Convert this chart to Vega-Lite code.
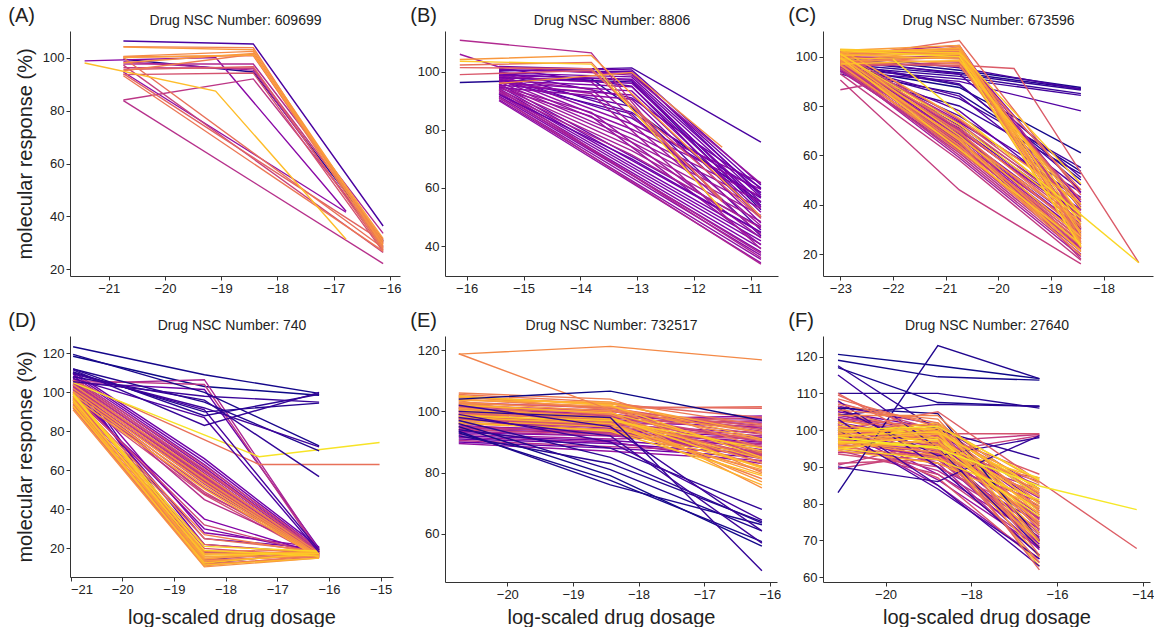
{
"$schema":"https://vega.github.io/schema/vega-lite/v6.json",
"background":"white",
"padding":{"left":8,"top":6,"right":0,"bottom":0},
"config":{
 "font":"Liberation Sans",
 "view":{"stroke":null},
 "axis":{"grid":false,"domainColor":"#333333","tickColor":"#333333","labelColor":"#222222","labelFontSize":13,"tickSize":4,"labelPadding":2,"titleFontSize":20,"titleFontWeight":"normal","titleColor":"#222222","domainWidth":1,"tickWidth":1,"titlePadding":6},
 "title":{"fontSize":20,"fontWeight":"normal","color":"#222222","offset":0,"anchor":"start","frame":"bounds","dx":-7,"dy":17},
 "line":{"strokeWidth":1.4}
},
"datasets":{
"A":[
{"i":3,"x":-20.74,"y":99.4},{"i":3,"x":-18.43,"y":94.6},{"i":3,"x":-16.12,"y":30.8},
{"i":12,"x":-20.74,"y":106.3},{"i":12,"x":-18.43,"y":105.2},{"i":12,"x":-16.12,"y":36.4},
{"i":28,"x":-21.43,"y":98.8},{"i":28,"x":-19.1,"y":100.1},{"i":28,"x":-16.78,"y":42.0},
{"i":30,"x":-20.74,"y":94.6},{"i":30,"x":-16.78,"y":41.6},
{"i":36,"x":-20.74,"y":98.5},{"i":36,"x":-18.43,"y":95.3},{"i":36,"x":-16.12,"y":28.6},
{"i":40,"x":-20.74,"y":97.6},{"i":40,"x":-18.43,"y":97.6},{"i":40,"x":-16.12,"y":33.6},
{"i":42,"x":-20.74,"y":83.8},{"i":42,"x":-16.12,"y":22.2},
{"i":44,"x":-20.74,"y":84.0},{"i":44,"x":-18.43,"y":92.0},{"i":44,"x":-16.12,"y":30.2},
{"i":46,"x":-20.74,"y":96.2},{"i":46,"x":-18.43,"y":96.0},{"i":46,"x":-16.12,"y":31.2},
{"i":48,"x":-20.74,"y":97.2},{"i":48,"x":-16.12,"y":26.4},
{"i":54,"x":-20.74,"y":93.6},{"i":54,"x":-18.43,"y":94.2},{"i":54,"x":-16.12,"y":26.7},
{"i":58,"x":-20.74,"y":95.5},{"i":58,"x":-18.43,"y":96.6},{"i":58,"x":-16.12,"y":27.4},
{"i":60,"x":-20.74,"y":94.0},{"i":60,"x":-16.12,"y":30.5},
{"i":62,"x":-20.74,"y":100.3},{"i":62,"x":-18.43,"y":100.8},{"i":62,"x":-16.12,"y":30.1},
{"i":64,"x":-20.74,"y":100.0},{"i":64,"x":-16.12,"y":28.1},
{"i":66,"x":-20.74,"y":93.2},{"i":66,"x":-16.12,"y":26.9},
{"i":68,"x":-20.74,"y":95.1},{"i":68,"x":-18.43,"y":101.3},{"i":68,"x":-16.12,"y":27.6},
{"i":70,"x":-20.74,"y":104.2},{"i":70,"x":-18.43,"y":103.8},{"i":70,"x":-16.12,"y":28.2},
{"i":72,"x":-20.74,"y":100.5},{"i":72,"x":-18.43,"y":102.4},{"i":72,"x":-16.12,"y":29.6},
{"i":74,"x":-20.74,"y":98.1},{"i":74,"x":-18.43,"y":101.6},{"i":74,"x":-16.12,"y":29.0},
{"i":76,"x":-20.74,"y":104.0},{"i":76,"x":-18.43,"y":103.0},{"i":76,"x":-16.12,"y":30.6},
{"i":78,"x":-20.74,"y":100.1},{"i":78,"x":-18.43,"y":101.0},{"i":78,"x":-16.12,"y":31.6},
{"i":86,"x":-21.43,"y":98.0},{"i":86,"x":-19.1,"y":87.4},{"i":86,"x":-16.78,"y":31.4}
],
"B":[
{"i":3,"x":-16.12,"y":96.3},{"i":3,"x":-13.81,"y":97.6},{"i":3,"x":-10.83,"y":55.0},
{"i":8,"x":-15.43,"y":98.0},{"i":8,"x":-13.1,"y":96.5},{"i":8,"x":-10.83,"y":52.5},
{"i":12,"x":-15.43,"y":100.2},{"i":12,"x":-13.1,"y":101.3},{"i":12,"x":-10.83,"y":75.8},
{"i":15,"x":-15.43,"y":96.8},{"i":15,"x":-13.1,"y":85.5},{"i":15,"x":-10.83,"y":43.5},
{"i":16,"x":-15.43,"y":97.5},{"i":16,"x":-13.1,"y":88.0},{"i":16,"x":-10.83,"y":45.5},
{"i":17,"x":-15.43,"y":101.2},{"i":17,"x":-13.1,"y":95.0},{"i":17,"x":-10.83,"y":50.0},
{"i":17.5,"x":-15.43,"y":98.6},{"i":17.5,"x":-13.1,"y":84.0},{"i":17.5,"x":-10.83,"y":56.5},
{"i":18,"x":-15.43,"y":100.5},{"i":18,"x":-13.1,"y":100.0},{"i":18,"x":-10.83,"y":57.5},
{"i":18.5,"x":-15.43,"y":99.8},{"i":18.5,"x":-13.1,"y":86.0},{"i":18.5,"x":-10.83,"y":58.5},
{"i":19,"x":-15.43,"y":99.2},{"i":19,"x":-13.1,"y":97.0},{"i":19,"x":-10.83,"y":54.0},
{"i":19.5,"x":-15.43,"y":100.0},{"i":19.5,"x":-13.1,"y":91.0},{"i":19.5,"x":-10.83,"y":60.0},
{"i":21.5,"x":-15.43,"y":95.8},{"i":21.5,"x":-10.83,"y":46.5},
{"i":22.5,"x":-15.43,"y":95.0},{"i":22.5,"x":-10.83,"y":44.6},
{"i":23.5,"x":-15.43,"y":94.2},{"i":23.5,"x":-10.83,"y":43.0},
{"i":24.5,"x":-15.43,"y":93.5},{"i":24.5,"x":-10.83,"y":41.8},
{"i":25.5,"x":-15.43,"y":92.8},{"i":25.5,"x":-10.83,"y":40.6},
{"i":26.5,"x":-15.43,"y":92.2},{"i":26.5,"x":-10.83,"y":39.2},
{"i":27.5,"x":-15.43,"y":91.6},{"i":27.5,"x":-10.83,"y":38.0},
{"i":28.5,"x":-15.43,"y":91.0},{"i":28.5,"x":-10.83,"y":36.8},
{"i":29.5,"x":-15.43,"y":90.4},{"i":29.5,"x":-10.83,"y":35.4},
{"i":30.5,"x":-15.43,"y":90.0},{"i":30.5,"x":-10.83,"y":34.2},
{"i":36.5,"x":-15.43,"y":92.5},{"i":36.5,"x":-10.83,"y":37.5},
{"i":37.5,"x":-15.43,"y":93.8},{"i":37.5,"x":-10.83,"y":36.0},
{"i":38.5,"x":-15.43,"y":91.2},{"i":38.5,"x":-10.83,"y":33.8},
{"i":31.5,"x":-15.43,"y":94.4},{"i":31.5,"x":-13.81,"y":84.6},{"i":31.5,"x":-10.83,"y":40.4},
{"i":32.5,"x":-15.43,"y":95.2},{"i":32.5,"x":-13.81,"y":86.0},{"i":32.5,"x":-10.83,"y":42.8},
{"i":33.5,"x":-15.43,"y":98.5},{"i":33.5,"x":-13.81,"y":96.5},{"i":33.5,"x":-10.83,"y":47.0},
{"i":34.5,"x":-15.43,"y":97.6},{"i":34.5,"x":-13.81,"y":94.0},{"i":34.5,"x":-10.83,"y":44.0},
{"i":35.5,"x":-15.43,"y":96.4},{"i":35.5,"x":-13.81,"y":92.5},{"i":35.5,"x":-10.83,"y":39.0},
{"i":29,"x":-15.43,"y":99.0},{"i":29,"x":-13.1,"y":82.0},{"i":29,"x":-10.83,"y":61.8},
{"i":30,"x":-15.43,"y":98.2},{"i":30,"x":-13.1,"y":80.2},{"i":30,"x":-10.83,"y":59.5},
{"i":31,"x":-15.43,"y":97.3},{"i":31,"x":-13.1,"y":78.6},{"i":31,"x":-10.83,"y":57.0},
{"i":32,"x":-15.43,"y":96.5},{"i":32,"x":-13.1,"y":77.0},{"i":32,"x":-10.83,"y":55.2},
{"i":34,"x":-15.43,"y":95.6},{"i":34,"x":-13.1,"y":75.8},{"i":34,"x":-10.83,"y":53.0},
{"i":35,"x":-15.43,"y":94.8},{"i":35,"x":-13.1,"y":74.2},{"i":35,"x":-10.83,"y":50.6},
{"i":36,"x":-15.43,"y":93.8},{"i":36,"x":-13.1,"y":72.8},{"i":36,"x":-10.83,"y":48.4},
{"i":37,"x":-15.43,"y":93.0},{"i":37,"x":-13.1,"y":71.4},{"i":37,"x":-10.83,"y":46.2},
{"i":20.5,"x":-15.43,"y":92.2},{"i":20.5,"x":-13.1,"y":70.0},{"i":20.5,"x":-10.83,"y":44.8},
{"i":20,"x":-15.43,"y":101.8},{"i":20,"x":-13.1,"y":100.6},{"i":20,"x":-10.83,"y":61.0},
{"i":21,"x":-15.43,"y":100.8},{"i":21,"x":-13.1,"y":99.4},{"i":21,"x":-10.83,"y":59.6},
{"i":22,"x":-15.43,"y":99.6},{"i":22,"x":-13.1,"y":98.2},{"i":22,"x":-10.83,"y":58.2},
{"i":23,"x":-15.43,"y":98.8},{"i":23,"x":-13.1,"y":97.4},{"i":23,"x":-10.83,"y":56.8},
{"i":24,"x":-15.43,"y":97.9},{"i":24,"x":-13.1,"y":96.0},{"i":24,"x":-10.83,"y":55.2},
{"i":25,"x":-15.43,"y":97.0},{"i":25,"x":-13.1,"y":94.8},{"i":25,"x":-10.83,"y":53.4},
{"i":26,"x":-15.43,"y":96.2},{"i":26,"x":-13.1,"y":93.4},{"i":26,"x":-10.83,"y":51.6},
{"i":27,"x":-15.43,"y":95.4},{"i":27,"x":-13.1,"y":92.0},{"i":27,"x":-10.83,"y":49.8},
{"i":28,"x":-15.43,"y":94.6},{"i":28,"x":-13.1,"y":90.5},{"i":28,"x":-10.83,"y":47.9},
{"i":33,"x":-16.12,"y":106.0},{"i":33,"x":-15.43,"y":101.6},{"i":33,"x":-13.1,"y":98.8},{"i":33,"x":-10.83,"y":61.5},
{"i":40,"x":-16.12,"y":110.8},{"i":40,"x":-13.81,"y":106.5},{"i":40,"x":-11.51,"y":51.8},
{"i":56,"x":-16.12,"y":99.0},{"i":56,"x":-13.81,"y":100.4},{"i":56,"x":-10.83,"y":49.5},
{"i":60,"x":-16.12,"y":101.4},{"i":60,"x":-13.81,"y":101.0},{"i":60,"x":-11.51,"y":56.0},
{"i":64,"x":-16.12,"y":102.3},{"i":64,"x":-13.81,"y":103.2},{"i":64,"x":-11.51,"y":55.2},
{"i":72,"x":-15.43,"y":96.0},{"i":72,"x":-13.1,"y":99.7},{"i":72,"x":-11.51,"y":74.0},
{"i":76,"x":-16.12,"y":104.2},{"i":76,"x":-13.81,"y":105.6},{"i":76,"x":-10.83,"y":50.2},
{"i":88,"x":-16.12,"y":103.6},{"i":88,"x":-13.81,"y":102.6},{"i":88,"x":-11.51,"y":52.4}
],
"C":[
{"i":1,"x":-23.0,"y":95.5},{"i":1,"x":-20.74,"y":87.5},{"i":1,"x":-18.43,"y":61.0},
{"i":3,"x":-23.0,"y":94.0},{"i":3,"x":-20.74,"y":85.0},{"i":3,"x":-18.43,"y":53.5},
{"i":5,"x":-23.0,"y":97.0},{"i":5,"x":-20.74,"y":88.5},{"i":5,"x":-18.43,"y":50.0},
{"i":7,"x":-23.0,"y":93.0},{"i":7,"x":-20.74,"y":80.0},{"i":7,"x":-18.43,"y":52.5},
{"i":9,"x":-23.0,"y":96.0},{"i":9,"x":-20.74,"y":83.0},{"i":9,"x":-18.43,"y":55.0},
{"i":2,"x":-23.0,"y":99.5},{"i":2,"x":-20.74,"y":94.5},{"i":2,"x":-18.43,"y":87.5},
{"i":4,"x":-23.0,"y":98.0},{"i":4,"x":-20.74,"y":93.5},{"i":4,"x":-18.43,"y":87.0},
{"i":6,"x":-23.0,"y":97.0},{"i":6,"x":-20.74,"y":92.8},{"i":6,"x":-18.43,"y":86.5},
{"i":8,"x":-23.0,"y":96.0},{"i":8,"x":-20.74,"y":92.0},{"i":8,"x":-18.43,"y":85.0},
{"i":10,"x":-23.0,"y":95.0},{"i":10,"x":-20.74,"y":91.0},{"i":10,"x":-18.43,"y":84.3},
{"i":12,"x":-23.0,"y":100.5},{"i":12,"x":-20.74,"y":95.5},{"i":12,"x":-18.43,"y":86.8},
{"i":14,"x":-23.0,"y":94.0},{"i":14,"x":-20.74,"y":90.0},{"i":14,"x":-18.43,"y":78.0},
{"i":11,"x":-23.0,"y":97.5},{"i":11,"x":-20.74,"y":89.0},{"i":11,"x":-18.43,"y":48.0},
{"i":13,"x":-23.0,"y":99.0},{"i":13,"x":-20.74,"y":93.0},{"i":13,"x":-18.43,"y":51.0},
{"i":15,"x":-23.0,"y":96.5},{"i":15,"x":-20.74,"y":84.0},{"i":15,"x":-18.43,"y":46.0},
{"i":16,"x":-23.0,"y":98.0},{"i":16,"x":-20.74,"y":76.0},{"i":16,"x":-18.43,"y":45.0},
{"i":17,"x":-23.0,"y":98.0},{"i":17,"x":-20.74,"y":78.0},{"i":17,"x":-18.43,"y":40.0},
{"i":18,"x":-23.0,"y":96.5},{"i":18,"x":-20.74,"y":73.5},{"i":18,"x":-18.43,"y":43.0},
{"i":19,"x":-23.0,"y":95.5},{"i":19,"x":-20.74,"y":71.0},{"i":19,"x":-18.43,"y":36.0},
{"i":20,"x":-23.0,"y":99.0},{"i":20,"x":-20.74,"y":72.0},{"i":20,"x":-18.43,"y":38.0},
{"i":21,"x":-23.0,"y":100.0},{"i":21,"x":-20.74,"y":68.0},{"i":21,"x":-18.43,"y":30.5},
{"i":22,"x":-23.0,"y":98.0},{"i":22,"x":-20.74,"y":70.0},{"i":22,"x":-18.43,"y":35.0},
{"i":23,"x":-23.0,"y":97.0},{"i":23,"x":-20.74,"y":66.0},{"i":23,"x":-18.43,"y":28.5},
{"i":24,"x":-23.0,"y":100.5},{"i":24,"x":-20.74,"y":102.5},{"i":24,"x":-18.43,"y":30.0},
{"i":25,"x":-23.0,"y":102.0},{"i":25,"x":-20.74,"y":101.5},{"i":25,"x":-18.43,"y":45.0},
{"i":26,"x":-23.0,"y":97.0},{"i":26,"x":-20.74,"y":68.5},{"i":26,"x":-18.43,"y":32.0},
{"i":27,"x":-23.0,"y":99.5},{"i":27,"x":-20.74,"y":99.5},{"i":27,"x":-18.43,"y":41.0},
{"i":28,"x":-23.0,"y":96.0},{"i":28,"x":-20.74,"y":67.0},{"i":28,"x":-18.43,"y":30.0},
{"i":29,"x":-23.0,"y":94.5},{"i":29,"x":-20.74,"y":62.0},{"i":29,"x":-18.43,"y":24.0},
{"i":30,"x":-23.0,"y":99.0},{"i":30,"x":-20.74,"y":100.5},{"i":30,"x":-18.43,"y":38.0},
{"i":31,"x":-23.0,"y":98.5},{"i":31,"x":-20.74,"y":64.5},{"i":31,"x":-18.43,"y":22.5},
{"i":32,"x":-23.0,"y":100.0},{"i":32,"x":-20.74,"y":74.0},{"i":32,"x":-18.43,"y":42.0},
{"i":33,"x":-23.0,"y":101.0},{"i":33,"x":-20.74,"y":70.0},{"i":33,"x":-18.43,"y":35.5},
{"i":34,"x":-23.0,"y":95.0},{"i":34,"x":-20.74,"y":65.0},{"i":34,"x":-18.43,"y":28.0},
{"i":35,"x":-23.0,"y":96.0},{"i":35,"x":-20.74,"y":59.0},{"i":35,"x":-18.43,"y":19.0},
{"i":36,"x":-23.0,"y":101.0},{"i":36,"x":-20.74,"y":104.5},{"i":36,"x":-18.43,"y":33.0},
{"i":37,"x":-23.0,"y":99.0},{"i":37,"x":-20.74,"y":67.5},{"i":37,"x":-18.43,"y":27.0},
{"i":38,"x":-23.0,"y":94.0},{"i":38,"x":-20.74,"y":63.5},{"i":38,"x":-18.43,"y":26.5},
{"i":39,"x":-23.0,"y":97.5},{"i":39,"x":-20.74,"y":65.5},{"i":39,"x":-18.43,"y":31.0},
{"i":40,"x":-23.0,"y":98.5},{"i":40,"x":-20.74,"y":66.0},{"i":40,"x":-18.43,"y":24.5},
{"i":41,"x":-23.0,"y":100.5},{"i":41,"x":-20.74,"y":103.0},{"i":41,"x":-18.43,"y":39.0},
{"i":42,"x":-23.0,"y":97.5},{"i":42,"x":-20.74,"y":62.0},{"i":42,"x":-18.43,"y":22.0},
{"i":43,"x":-23.0,"y":95.0},{"i":43,"x":-20.74,"y":61.0},{"i":43,"x":-18.43,"y":21.0},
{"i":44,"x":-23.0,"y":96.5},{"i":44,"x":-20.74,"y":60.0},{"i":44,"x":-18.43,"y":20.0},
{"i":45,"x":-23.0,"y":86.6},{"i":45,"x":-22.0,"y":90.5},{"i":45,"x":-20.74,"y":70.0},{"i":45,"x":-18.43,"y":18.0},
{"i":46,"x":-23.0,"y":93.0},{"i":46,"x":-20.74,"y":58.0},{"i":46,"x":-18.43,"y":17.5},
{"i":47,"x":-23.0,"y":90.5},{"i":47,"x":-20.74,"y":46.0},{"i":47,"x":-18.43,"y":16.0},
{"i":48,"x":-23.0,"y":101.0},{"i":48,"x":-20.74,"y":70.5},{"i":48,"x":-18.43,"y":33.5},
{"i":49,"x":-23.0,"y":98.0},{"i":49,"x":-20.74,"y":63.5},{"i":49,"x":-18.43,"y":25.0},
{"i":50,"x":-23.0,"y":96.0},{"i":50,"x":-20.74,"y":97.5},{"i":50,"x":-18.43,"y":35.0},
{"i":51,"x":-23.0,"y":100.0},{"i":51,"x":-20.74,"y":99.5},{"i":51,"x":-18.43,"y":34.0},
{"i":52,"x":-23.0,"y":99.5},{"i":52,"x":-20.74,"y":69.0},{"i":52,"x":-18.43,"y":29.5},
{"i":53,"x":-23.0,"y":96.5},{"i":53,"x":-20.74,"y":62.5},{"i":53,"x":-18.43,"y":23.0},
{"i":54,"x":-23.0,"y":102.0},{"i":54,"x":-20.74,"y":73.0},{"i":54,"x":-18.43,"y":36.5},
{"i":55,"x":-23.0,"y":103.0},{"i":55,"x":-20.74,"y":74.5},{"i":55,"x":-18.43,"y":37.5},
{"i":56,"x":-23.0,"y":98.0},{"i":56,"x":-20.74,"y":96.0},{"i":56,"x":-18.43,"y":42.0},
{"i":57,"x":-23.0,"y":97.0},{"i":57,"x":-20.74,"y":96.5},{"i":57,"x":-19.7,"y":95.2},{"i":57,"x":-17.33,"y":16.5},
{"i":58,"x":-23.0,"y":95.5},{"i":58,"x":-20.74,"y":64.0},{"i":58,"x":-18.43,"y":27.5},
{"i":59,"x":-23.0,"y":98.0},{"i":59,"x":-20.74,"y":100.5},{"i":59,"x":-18.43,"y":27.5},
{"i":61,"x":-23.0,"y":99.0},{"i":61,"x":-20.74,"y":65.0},{"i":61,"x":-18.43,"y":26.0},
{"i":62,"x":-23.0,"y":99.5},{"i":62,"x":-20.74,"y":106.5},{"i":62,"x":-18.43,"y":44.0},
{"i":63,"x":-23.0,"y":101.5},{"i":63,"x":-20.74,"y":102.0},{"i":63,"x":-18.43,"y":22.5},
{"i":64,"x":-23.0,"y":97.0},{"i":64,"x":-20.74,"y":61.5},{"i":64,"x":-18.43,"y":25.5},
{"i":65,"x":-23.0,"y":100.0},{"i":65,"x":-20.74,"y":69.5},{"i":65,"x":-18.43,"y":29.0},
{"i":66,"x":-23.0,"y":97.5},{"i":66,"x":-20.74,"y":104.0},{"i":66,"x":-18.43,"y":26.0},
{"i":67,"x":-23.0,"y":97.5},{"i":67,"x":-20.74,"y":100.0},{"i":67,"x":-18.43,"y":46.0},
{"i":68,"x":-23.0,"y":100.5},{"i":68,"x":-20.74,"y":71.5},{"i":68,"x":-18.43,"y":31.5},
{"i":69,"x":-23.0,"y":102.0},{"i":69,"x":-20.74,"y":103.0},{"i":69,"x":-18.43,"y":35.0},
{"i":70,"x":-23.0,"y":100.0},{"i":70,"x":-20.74,"y":97.0},{"i":70,"x":-18.43,"y":30.5},
{"i":71,"x":-23.0,"y":99.0},{"i":71,"x":-20.74,"y":64.0},{"i":71,"x":-18.43,"y":19.5},
{"i":72,"x":-23.0,"y":98.5},{"i":72,"x":-20.74,"y":66.5},{"i":72,"x":-18.43,"y":23.5},
{"i":73,"x":-23.0,"y":101.0},{"i":73,"x":-20.74,"y":101.5},{"i":73,"x":-18.43,"y":25.0},
{"i":74,"x":-23.0,"y":98.5},{"i":74,"x":-20.74,"y":98.0},{"i":74,"x":-18.43,"y":40.0},
{"i":75,"x":-23.0,"y":98.0},{"i":75,"x":-20.74,"y":67.0},{"i":75,"x":-18.43,"y":33.0},
{"i":76,"x":-23.0,"y":96.5},{"i":76,"x":-20.74,"y":63.0},{"i":76,"x":-18.43,"y":21.5},
{"i":77,"x":-23.0,"y":102.5},{"i":77,"x":-20.74,"y":104.5},{"i":77,"x":-18.43,"y":29.0},
{"i":78,"x":-23.0,"y":101.0},{"i":78,"x":-20.74,"y":99.0},{"i":78,"x":-18.43,"y":23.0},
{"i":79,"x":-23.0,"y":103.0},{"i":79,"x":-20.74,"y":75.0},{"i":79,"x":-18.43,"y":40.5},
{"i":80,"x":-23.0,"y":101.5},{"i":80,"x":-20.74,"y":103.5},{"i":80,"x":-18.43,"y":24.0},
{"i":81,"x":-23.0,"y":100.0},{"i":81,"x":-20.74,"y":66.0},{"i":81,"x":-18.43,"y":21.0},
{"i":82,"x":-23.0,"y":102.5},{"i":82,"x":-20.74,"y":102.5},{"i":82,"x":-18.43,"y":28.0},
{"i":83,"x":-23.0,"y":101.5},{"i":83,"x":-20.74,"y":68.0},{"i":83,"x":-18.43,"y":27.0},
{"i":84,"x":-23.0,"y":100.5},{"i":84,"x":-20.74,"y":101.0},{"i":84,"x":-18.43,"y":32.0},
{"i":85,"x":-23.0,"y":97.0},{"i":85,"x":-20.74,"y":98.5},{"i":85,"x":-18.43,"y":38.5},
{"i":86,"x":-23.0,"y":99.0},{"i":86,"x":-20.74,"y":100.0},{"i":86,"x":-18.43,"y":36.0},
{"i":87,"x":-23.0,"y":99.5},{"i":87,"x":-20.74,"y":62.5},{"i":87,"x":-18.43,"y":24.0},
{"i":88,"x":-23.0,"y":103.0},{"i":88,"x":-20.74,"y":101.5},{"i":88,"x":-18.43,"y":48.5},
{"i":89,"x":-23.0,"y":101.0},{"i":89,"x":-20.74,"y":72.5},{"i":89,"x":-18.43,"y":34.5},
{"i":90,"x":-23.0,"y":102.5},{"i":90,"x":-20.74,"y":100.0},{"i":90,"x":-18.43,"y":23.0},
{"i":92,"x":-22.0,"y":99.0},{"i":92,"x":-17.33,"y":16.5}
],
"D":[
{"i":0,"x":-20.95,"y":118.5},{"i":0,"x":-18.41,"y":103.0},{"i":0,"x":-16.19,"y":98.5},
{"i":14,"x":-20.95,"y":110.0},{"i":14,"x":-18.41,"y":14.0},{"i":14,"x":-16.19,"y":19.0},
{"i":16,"x":-20.95,"y":108.0},{"i":16,"x":-18.41,"y":12.0},{"i":16,"x":-16.19,"y":18.5},
{"i":18,"x":-20.95,"y":104.0},{"i":18,"x":-18.41,"y":22.0},{"i":18,"x":-16.19,"y":17.5},
{"i":22,"x":-20.95,"y":102.0},{"i":22,"x":-18.41,"y":25.0},{"i":22,"x":-16.19,"y":20.0},
{"i":24,"x":-20.95,"y":100.0},{"i":24,"x":-18.41,"y":30.0},{"i":24,"x":-16.19,"y":18.0},
{"i":26,"x":-20.95,"y":98.0},{"i":26,"x":-18.41,"y":35.0},{"i":26,"x":-16.19,"y":17.0},
{"i":28,"x":-20.95,"y":106.5},{"i":28,"x":-18.41,"y":28.0},{"i":28,"x":-16.19,"y":20.5},
{"i":30,"x":-20.95,"y":96.0},{"i":30,"x":-18.41,"y":18.0},{"i":30,"x":-16.19,"y":16.5},
{"i":21,"x":-20.95,"y":110.5},{"i":21,"x":-18.41,"y":66.0},{"i":21,"x":-16.19,"y":20.5},
{"i":23,"x":-20.95,"y":109.5},{"i":23,"x":-18.41,"y":64.5},{"i":23,"x":-16.19,"y":19.5},
{"i":25,"x":-20.95,"y":108.5},{"i":25,"x":-18.41,"y":63.0},{"i":25,"x":-16.19,"y":18.5},
{"i":27,"x":-20.95,"y":107.5},{"i":27,"x":-18.41,"y":61.5},{"i":27,"x":-16.19,"y":18.0},
{"i":29,"x":-20.95,"y":106.5},{"i":29,"x":-18.41,"y":60.0},{"i":29,"x":-16.19,"y":17.5},
{"i":31,"x":-20.95,"y":105.5},{"i":31,"x":-18.41,"y":58.5},{"i":31,"x":-16.19,"y":17.0},
{"i":33,"x":-20.95,"y":104.5},{"i":33,"x":-18.41,"y":57.0},{"i":33,"x":-16.19,"y":16.5},
{"i":35,"x":-20.95,"y":103.5},{"i":35,"x":-18.41,"y":56.0},{"i":35,"x":-16.19,"y":16.0},
{"i":37,"x":-20.95,"y":102.5},{"i":37,"x":-18.41,"y":54.5},{"i":37,"x":-16.19,"y":15.5},
{"i":39,"x":-20.95,"y":101.5},{"i":39,"x":-18.41,"y":53.0},{"i":39,"x":-16.19,"y":15.0},
{"i":41,"x":-20.95,"y":100.5},{"i":41,"x":-18.41,"y":51.0},{"i":41,"x":-16.19,"y":17.0},
{"i":43,"x":-20.95,"y":105.0},{"i":43,"x":-18.41,"y":59.5},{"i":43,"x":-16.19,"y":19.0},
{"i":45,"x":-20.95,"y":103.0},{"i":45,"x":-18.41,"y":56.5},{"i":45,"x":-16.19,"y":18.5},
{"i":47,"x":-20.95,"y":101.0},{"i":47,"x":-18.41,"y":54.0},{"i":47,"x":-16.19,"y":17.5},
{"i":49,"x":-20.95,"y":107.0},{"i":49,"x":-18.41,"y":62.5},{"i":49,"x":-16.19,"y":19.5},
{"i":51,"x":-20.95,"y":99.5},{"i":51,"x":-18.41,"y":49.0},{"i":51,"x":-16.19,"y":16.0},
{"i":53,"x":-20.95,"y":98.0},{"i":53,"x":-18.41,"y":47.5},{"i":53,"x":-16.19,"y":15.5},
{"i":55,"x":-20.95,"y":106.0},{"i":55,"x":-18.41,"y":60.5},{"i":55,"x":-16.19,"y":18.0},
{"i":57,"x":-20.95,"y":104.0},{"i":57,"x":-18.41,"y":57.5},{"i":57,"x":-16.19,"y":17.0},
{"i":59,"x":-20.95,"y":102.5},{"i":59,"x":-18.41,"y":55.0},{"i":59,"x":-16.19,"y":16.5},
{"i":20,"x":-20.95,"y":105.0},{"i":20,"x":-18.41,"y":101.5},{"i":20,"x":-16.19,"y":20.0},
{"i":38,"x":-20.95,"y":104.5},{"i":38,"x":-18.41,"y":106.5},{"i":38,"x":-16.19,"y":19.0},
{"i":44,"x":-20.95,"y":106.0},{"i":44,"x":-18.41,"y":104.0},{"i":44,"x":-16.19,"y":18.0},
{"i":42,"x":-20.95,"y":103.0},{"i":42,"x":-18.41,"y":45.0},{"i":42,"x":-16.19,"y":18.0},
{"i":46,"x":-20.95,"y":101.5},{"i":46,"x":-18.41,"y":48.0},{"i":46,"x":-16.19,"y":19.5},
{"i":50,"x":-20.95,"y":99.0},{"i":50,"x":-18.41,"y":32.0},{"i":50,"x":-16.19,"y":17.0},
{"i":54,"x":-20.95,"y":97.5},{"i":54,"x":-18.41,"y":20.0},{"i":54,"x":-16.19,"y":16.0},
{"i":58,"x":-20.95,"y":95.0},{"i":58,"x":-18.41,"y":16.0},{"i":58,"x":-16.19,"y":15.5},
{"i":60,"x":-20.95,"y":96.5},{"i":60,"x":-18.41,"y":22.0},{"i":60,"x":-16.19,"y":17.0},
{"i":61,"x":-20.95,"y":94.0},{"i":61,"x":-18.41,"y":14.0},{"i":61,"x":-16.19,"y":16.0},
{"i":62,"x":-20.95,"y":93.5},{"i":62,"x":-18.41,"y":13.0},{"i":62,"x":-16.19,"y":17.0},
{"i":63,"x":-20.95,"y":97.0},{"i":63,"x":-18.41,"y":25.0},{"i":63,"x":-16.19,"y":18.5},
{"i":65,"x":-20.95,"y":92.5},{"i":65,"x":-18.41,"y":12.0},{"i":65,"x":-16.19,"y":15.5},
{"i":66,"x":-20.95,"y":92.0},{"i":66,"x":-18.41,"y":11.0},{"i":66,"x":-16.19,"y":16.5},
{"i":67,"x":-20.95,"y":95.5},{"i":67,"x":-18.41,"y":18.5},{"i":67,"x":-16.19,"y":19.0},
{"i":69,"x":-20.95,"y":98.0},{"i":69,"x":-18.41,"y":27.0},{"i":69,"x":-16.19,"y":17.5},
{"i":70,"x":-20.95,"y":94.5},{"i":70,"x":-18.41,"y":17.0},{"i":70,"x":-16.19,"y":18.0},
{"i":71,"x":-20.95,"y":104.0},{"i":71,"x":-18.41,"y":58.0},{"i":71,"x":-16.19,"y":17.5},
{"i":72,"x":-20.95,"y":93.0},{"i":72,"x":-18.41,"y":15.0},{"i":72,"x":-16.19,"y":17.0},
{"i":73,"x":-20.95,"y":102.0},{"i":73,"x":-18.41,"y":55.5},{"i":73,"x":-16.19,"y":16.5},
{"i":74,"x":-20.95,"y":91.0},{"i":74,"x":-18.41,"y":10.5},{"i":74,"x":-16.19,"y":15.0},
{"i":75,"x":-20.95,"y":100.5},{"i":75,"x":-18.41,"y":53.5},{"i":75,"x":-16.19,"y":16.0},
{"i":76,"x":-20.95,"y":97.0},{"i":76,"x":-18.41,"y":13.5},{"i":76,"x":-16.19,"y":16.5},
{"i":77,"x":-20.95,"y":99.0},{"i":77,"x":-18.41,"y":52.0},{"i":77,"x":-16.19,"y":15.5},
{"i":78,"x":-20.95,"y":96.5},{"i":78,"x":-18.41,"y":14.5},{"i":78,"x":-16.19,"y":19.0},
{"i":79,"x":-20.95,"y":97.5},{"i":79,"x":-18.41,"y":50.5},{"i":79,"x":-16.19,"y":15.0},
{"i":80,"x":-20.95,"y":100.0},{"i":80,"x":-18.41,"y":17.5},{"i":80,"x":-16.19,"y":18.0},
{"i":82,"x":-20.95,"y":99.5},{"i":82,"x":-18.41,"y":15.5},{"i":82,"x":-16.19,"y":18.5},
{"i":84,"x":-20.95,"y":95.0},{"i":84,"x":-18.41,"y":11.5},{"i":84,"x":-16.19,"y":15.0},
{"i":86,"x":-20.95,"y":93.0},{"i":86,"x":-18.41,"y":12.5},{"i":86,"x":-16.19,"y":17.5},
{"i":88,"x":-20.95,"y":96.0},{"i":88,"x":-18.41,"y":16.5},{"i":88,"x":-16.19,"y":17.5},
{"i":90,"x":-20.95,"y":98.5},{"i":90,"x":-18.41,"y":19.0},{"i":90,"x":-16.19,"y":16.0},
{"i":92,"x":-20.95,"y":99.0},{"i":92,"x":-18.41,"y":21.0},{"i":92,"x":-16.19,"y":18.5},
{"i":64,"x":-20.95,"y":106.0},{"i":64,"x":-17.35,"y":63.0},{"i":64,"x":-15.02,"y":63.0},
{"i":95,"x":-20.95,"y":105.0},{"i":95,"x":-17.35,"y":67.0},{"i":95,"x":-15.02,"y":74.3},
{"i":11,"x":-20.95,"y":110.0},{"i":11,"x":-18.41,"y":91.0},{"i":11,"x":-16.19,"y":19.0},
{"i":13,"x":-20.95,"y":107.0},{"i":13,"x":-18.41,"y":87.0},{"i":13,"x":-16.19,"y":18.0},
{"i":1,"x":-20.95,"y":123.4},{"i":1,"x":-18.41,"y":109.0},{"i":1,"x":-16.19,"y":99.5},
{"i":2,"x":-20.95,"y":119.5},{"i":2,"x":-18.41,"y":100.0},{"i":2,"x":-16.19,"y":72.5},
{"i":3,"x":-20.95,"y":112.0},{"i":3,"x":-18.41,"y":95.0},{"i":3,"x":-16.19,"y":70.0},
{"i":4,"x":-20.95,"y":110.5},{"i":4,"x":-18.41,"y":90.0},{"i":4,"x":-16.19,"y":94.5},
{"i":5,"x":-20.95,"y":112.0},{"i":5,"x":-18.41,"y":88.0},{"i":5,"x":-16.19,"y":99.0},
{"i":6,"x":-20.95,"y":108.0},{"i":6,"x":-18.41,"y":96.0},{"i":6,"x":-16.19,"y":56.8},
{"i":7,"x":-20.95,"y":111.5},{"i":7,"x":-18.41,"y":83.0},{"i":7,"x":-16.19,"y":100.0},
{"i":8,"x":-20.95,"y":105.5},{"i":8,"x":-18.41,"y":98.0},{"i":8,"x":-16.19,"y":95.0},
{"i":9,"x":-20.95,"y":109.5},{"i":9,"x":-18.41,"y":92.0},{"i":9,"x":-16.19,"y":72.0}
],
"E":[
{"i":20,"x":-20.74,"y":90.0},{"i":20,"x":-18.43,"y":88.0},{"i":20,"x":-16.12,"y":85.0},
{"i":21,"x":-20.74,"y":91.0},{"i":21,"x":-18.43,"y":89.5},{"i":21,"x":-16.12,"y":86.0},
{"i":22,"x":-20.74,"y":92.0},{"i":22,"x":-18.43,"y":90.5},{"i":22,"x":-16.12,"y":87.0},
{"i":23,"x":-20.74,"y":93.0},{"i":23,"x":-18.43,"y":92.0},{"i":23,"x":-16.12,"y":88.5},
{"i":24,"x":-20.74,"y":94.0},{"i":24,"x":-18.43,"y":93.0},{"i":24,"x":-16.12,"y":90.0},
{"i":25,"x":-20.74,"y":95.0},{"i":25,"x":-18.43,"y":94.0},{"i":25,"x":-16.12,"y":91.5},
{"i":26,"x":-20.74,"y":96.0},{"i":26,"x":-18.43,"y":95.5},{"i":26,"x":-16.12,"y":93.0},
{"i":27,"x":-20.74,"y":97.0},{"i":27,"x":-18.43,"y":96.5},{"i":27,"x":-16.12,"y":95.0},
{"i":28,"x":-20.74,"y":98.0},{"i":28,"x":-18.43,"y":97.0},{"i":28,"x":-16.12,"y":96.5},
{"i":29,"x":-20.74,"y":99.0},{"i":29,"x":-18.43,"y":98.0},{"i":29,"x":-16.12,"y":97.5},
{"i":30,"x":-20.74,"y":100.0},{"i":30,"x":-18.43,"y":97.5},{"i":30,"x":-16.12,"y":98.5},
{"i":31,"x":-20.74,"y":89.5},{"i":31,"x":-18.43,"y":87.0},{"i":31,"x":-16.12,"y":84.0},
{"i":32,"x":-20.74,"y":91.5},{"i":32,"x":-18.43,"y":90.0},{"i":32,"x":-16.12,"y":83.0},
{"i":33,"x":-20.74,"y":95.5},{"i":33,"x":-18.43,"y":92.5},{"i":33,"x":-16.12,"y":86.5},
{"i":34,"x":-20.74,"y":97.5},{"i":34,"x":-18.43,"y":94.5},{"i":34,"x":-16.12,"y":87.5},
{"i":35,"x":-20.74,"y":101.0},{"i":35,"x":-18.43,"y":99.0},{"i":35,"x":-16.12,"y":94.5},
{"i":36,"x":-20.74,"y":92.5},{"i":36,"x":-18.43,"y":91.0},{"i":36,"x":-16.12,"y":92.0},
{"i":37,"x":-20.74,"y":93.5},{"i":37,"x":-18.43,"y":92.0},{"i":37,"x":-16.12,"y":89.5},
{"i":38,"x":-20.74,"y":94.5},{"i":38,"x":-18.43,"y":93.5},{"i":38,"x":-16.12,"y":86.0},
{"i":39,"x":-20.74,"y":96.5},{"i":39,"x":-18.43,"y":94.0},{"i":39,"x":-16.12,"y":84.5},
{"i":40,"x":-20.74,"y":98.5},{"i":40,"x":-18.43,"y":96.0},{"i":40,"x":-16.12,"y":92.0},
{"i":41,"x":-20.74,"y":99.5},{"i":41,"x":-18.43,"y":99.0},{"i":41,"x":-16.12,"y":95.5},
{"i":42,"x":-20.74,"y":90.5},{"i":42,"x":-18.43,"y":88.5},{"i":42,"x":-16.12,"y":86.5},
{"i":43,"x":-20.74,"y":100.5},{"i":43,"x":-18.43,"y":98.5},{"i":43,"x":-16.12,"y":90.0},
{"i":44,"x":-20.74,"y":97.0},{"i":44,"x":-18.43,"y":95.5},{"i":44,"x":-16.12,"y":97.0},
{"i":45,"x":-20.74,"y":96.0},{"i":45,"x":-18.43,"y":95.0},{"i":45,"x":-16.12,"y":89.0},
{"i":46,"x":-20.74,"y":95.0},{"i":46,"x":-18.43,"y":93.0},{"i":46,"x":-16.12,"y":85.0},
{"i":47,"x":-20.74,"y":102.0},{"i":47,"x":-18.43,"y":100.0},{"i":47,"x":-16.12,"y":93.5},
{"i":48,"x":-20.74,"y":98.0},{"i":48,"x":-18.43,"y":97.0},{"i":48,"x":-16.12,"y":85.5},
{"i":49,"x":-20.74,"y":94.0},{"i":49,"x":-18.43,"y":92.5},{"i":49,"x":-16.12,"y":91.0},
{"i":50,"x":-20.74,"y":99.0},{"i":50,"x":-18.43,"y":98.5},{"i":50,"x":-16.12,"y":90.5},
{"i":51,"x":-20.74,"y":101.5},{"i":51,"x":-18.43,"y":99.5},{"i":51,"x":-16.12,"y":86.0},
{"i":52,"x":-20.74,"y":96.0},{"i":52,"x":-18.43,"y":96.5},{"i":52,"x":-16.12,"y":98.0},
{"i":53,"x":-20.74,"y":100.0},{"i":53,"x":-18.43,"y":99.0},{"i":53,"x":-16.12,"y":92.5},
{"i":54,"x":-20.74,"y":99.5},{"i":54,"x":-18.43,"y":97.0},{"i":54,"x":-16.12,"y":83.5},
{"i":55,"x":-20.74,"y":103.0},{"i":55,"x":-18.43,"y":101.0},{"i":55,"x":-16.12,"y":94.0},
{"i":56,"x":-20.74,"y":101.5},{"i":56,"x":-18.43,"y":100.5},{"i":56,"x":-16.12,"y":95.0},
{"i":57,"x":-20.74,"y":98.0},{"i":57,"x":-18.43,"y":95.5},{"i":57,"x":-16.12,"y":88.5},
{"i":58,"x":-20.74,"y":100.5},{"i":58,"x":-18.43,"y":100.0},{"i":58,"x":-16.12,"y":96.0},
{"i":59,"x":-20.74,"y":97.5},{"i":59,"x":-18.43,"y":96.0},{"i":59,"x":-16.12,"y":91.0},
{"i":60,"x":-20.74,"y":102.5},{"i":60,"x":-18.43,"y":101.5},{"i":60,"x":-16.12,"y":101.0},
{"i":61,"x":-20.74,"y":104.5},{"i":61,"x":-18.43,"y":102.5},{"i":61,"x":-16.12,"y":98.0},
{"i":62,"x":-20.74,"y":101.0},{"i":62,"x":-18.43,"y":98.0},{"i":62,"x":-16.12,"y":85.0},
{"i":63,"x":-20.74,"y":104.0},{"i":63,"x":-18.43,"y":101.0},{"i":63,"x":-16.12,"y":101.5},
{"i":64,"x":-20.74,"y":99.0},{"i":64,"x":-18.43,"y":97.5},{"i":64,"x":-16.12,"y":82.0},
{"i":65,"x":-20.74,"y":103.5},{"i":65,"x":-18.43,"y":95.0},{"i":65,"x":-16.12,"y":80.5},
{"i":66,"x":-20.74,"y":105.5},{"i":66,"x":-18.43,"y":103.0},{"i":66,"x":-16.12,"y":95.5},
{"i":67,"x":-20.74,"y":105.0},{"i":67,"x":-18.43,"y":100.5},{"i":67,"x":-16.12,"y":86.5},
{"i":68,"x":-20.74,"y":106.0},{"i":68,"x":-18.43,"y":104.0},{"i":68,"x":-16.12,"y":88.0},
{"i":69,"x":-20.74,"y":100.0},{"i":69,"x":-18.43,"y":96.5},{"i":69,"x":-16.12,"y":78.0},
{"i":71,"x":-20.74,"y":105.0},{"i":71,"x":-18.43,"y":102.0},{"i":71,"x":-16.12,"y":80.0},
{"i":73,"x":-20.74,"y":102.5},{"i":73,"x":-18.43,"y":99.0},{"i":73,"x":-16.12,"y":83.0},
{"i":74,"x":-20.74,"y":103.0},{"i":74,"x":-18.43,"y":100.0},{"i":74,"x":-16.12,"y":75.0},
{"i":75,"x":-20.74,"y":104.0},{"i":75,"x":-18.43,"y":101.5},{"i":75,"x":-16.12,"y":90.5},
{"i":76,"x":-20.74,"y":101.0},{"i":76,"x":-18.43,"y":98.0},{"i":76,"x":-16.12,"y":77.0},
{"i":77,"x":-20.74,"y":96.0},{"i":77,"x":-18.43,"y":94.0},{"i":77,"x":-16.12,"y":81.0},
{"i":78,"x":-20.74,"y":99.0},{"i":78,"x":-18.43,"y":96.0},{"i":78,"x":-16.12,"y":79.5},
{"i":79,"x":-20.74,"y":104.5},{"i":79,"x":-18.43,"y":102.5},{"i":79,"x":-16.12,"y":93.0},
{"i":80,"x":-20.74,"y":97.0},{"i":80,"x":-18.43,"y":95.0},{"i":80,"x":-16.12,"y":82.0},
{"i":81,"x":-20.74,"y":103.5},{"i":81,"x":-18.43,"y":103.0},{"i":81,"x":-16.12,"y":91.0},
{"i":82,"x":-20.74,"y":100.5},{"i":82,"x":-18.43,"y":97.5},{"i":82,"x":-16.12,"y":84.5},
{"i":83,"x":-20.74,"y":98.0},{"i":83,"x":-18.43,"y":96.0},{"i":83,"x":-16.12,"y":76.0},
{"i":84,"x":-20.74,"y":102.0},{"i":84,"x":-18.43,"y":99.5},{"i":84,"x":-16.12,"y":87.0},
{"i":85,"x":-20.74,"y":105.0},{"i":85,"x":-18.43,"y":102.0},{"i":85,"x":-16.12,"y":85.0},
{"i":86,"x":-20.74,"y":96.5},{"i":86,"x":-18.43,"y":93.5},{"i":86,"x":-16.12,"y":79.0},
{"i":87,"x":-20.74,"y":100.0},{"i":87,"x":-18.43,"y":98.0},{"i":87,"x":-16.12,"y":81.5},
{"i":88,"x":-20.74,"y":98.5},{"i":88,"x":-18.43,"y":97.0},{"i":88,"x":-16.12,"y":88.0},
{"i":70,"x":-20.74,"y":118.8},{"i":70,"x":-18.43,"y":100.5},{"i":70,"x":-16.12,"y":93.0},
{"i":72,"x":-20.74,"y":118.7},{"i":72,"x":-18.43,"y":121.2},{"i":72,"x":-16.12,"y":116.8},
{"i":0,"x":-20.74,"y":104.0},{"i":0,"x":-18.43,"y":106.6},{"i":0,"x":-16.12,"y":97.0},
{"i":1,"x":-20.74,"y":95.0},{"i":1,"x":-18.43,"y":79.0},{"i":1,"x":-16.12,"y":56.0},
{"i":2,"x":-20.74,"y":93.0},{"i":2,"x":-18.43,"y":77.5},{"i":2,"x":-16.12,"y":57.5},
{"i":2.5,"x":-20.74,"y":93.5},{"i":2.5,"x":-18.43,"y":76.0},{"i":2.5,"x":-16.12,"y":63.0},
{"i":3,"x":-20.74,"y":96.0},{"i":3,"x":-18.43,"y":81.0},{"i":3,"x":-16.12,"y":61.0},
{"i":4,"x":-20.74,"y":92.0},{"i":4,"x":-18.43,"y":83.0},{"i":4,"x":-16.12,"y":64.0},
{"i":5,"x":-20.74,"y":97.0},{"i":5,"x":-18.43,"y":85.0},{"i":5,"x":-16.12,"y":63.5},
{"i":6,"x":-20.74,"y":94.0},{"i":6,"x":-18.43,"y":88.0},{"i":6,"x":-16.12,"y":68.0},
{"i":7,"x":-20.74,"y":100.0},{"i":7,"x":-18.43,"y":98.0},{"i":7,"x":-16.12,"y":48.0},
{"i":8,"x":-20.74,"y":102.0},{"i":8,"x":-18.43,"y":95.0},{"i":8,"x":-16.12,"y":61.0},
{"i":9,"x":-20.74,"y":98.0},{"i":9,"x":-18.43,"y":92.0},{"i":9,"x":-16.12,"y":57.0},
{"i":10,"x":-20.74,"y":99.0},{"i":10,"x":-18.43,"y":90.0},{"i":10,"x":-16.12,"y":64.5}
],
"F":[
{"i":20,"x":-21.11,"y":106.5},{"i":20,"x":-18.78,"y":101.5},{"i":20,"x":-16.41,"y":84.0},
{"i":21,"x":-21.11,"y":105.0},{"i":21,"x":-18.78,"y":100.5},{"i":21,"x":-16.41,"y":82.0},
{"i":22,"x":-21.11,"y":104.0},{"i":22,"x":-18.78,"y":99.5},{"i":22,"x":-16.41,"y":80.0},
{"i":23,"x":-21.11,"y":103.0},{"i":23,"x":-18.78,"y":98.5},{"i":23,"x":-16.41,"y":78.0},
{"i":24,"x":-21.11,"y":102.0},{"i":24,"x":-18.78,"y":97.5},{"i":24,"x":-16.41,"y":76.0},
{"i":25,"x":-21.11,"y":101.0},{"i":25,"x":-18.78,"y":96.5},{"i":25,"x":-16.41,"y":74.0},
{"i":26,"x":-21.11,"y":100.0},{"i":26,"x":-18.78,"y":95.5},{"i":26,"x":-16.41,"y":72.0},
{"i":27,"x":-21.11,"y":99.0},{"i":27,"x":-18.78,"y":94.5},{"i":27,"x":-16.41,"y":70.5},
{"i":28,"x":-21.11,"y":98.0},{"i":28,"x":-18.78,"y":93.5},{"i":28,"x":-16.41,"y":69.0},
{"i":29,"x":-21.11,"y":97.0},{"i":29,"x":-18.78,"y":92.5},{"i":29,"x":-16.41,"y":67.5},
{"i":30,"x":-21.11,"y":102.5},{"i":30,"x":-18.78,"y":90.0},{"i":30,"x":-16.41,"y":75.0},
{"i":31,"x":-21.11,"y":101.5},{"i":31,"x":-18.78,"y":88.0},{"i":31,"x":-16.41,"y":71.0},
{"i":32,"x":-21.11,"y":100.5},{"i":32,"x":-18.78,"y":86.5},{"i":32,"x":-16.41,"y":68.0},
{"i":33,"x":-21.11,"y":99.5},{"i":33,"x":-18.78,"y":85.0},{"i":33,"x":-16.41,"y":65.0},
{"i":34,"x":-21.11,"y":98.5},{"i":34,"x":-18.78,"y":92.0},{"i":34,"x":-16.41,"y":73.0},
{"i":35,"x":-21.11,"y":104.5},{"i":35,"x":-18.78,"y":96.0},{"i":35,"x":-16.41,"y":77.0},
{"i":36,"x":-21.11,"y":103.5},{"i":36,"x":-18.78,"y":99.0},{"i":36,"x":-16.41,"y":79.0},
{"i":37,"x":-21.11,"y":102.0},{"i":37,"x":-18.78,"y":94.0},{"i":37,"x":-16.41,"y":70.0},
{"i":38,"x":-21.11,"y":101.0},{"i":38,"x":-18.78,"y":97.0},{"i":38,"x":-16.41,"y":81.5},
{"i":39,"x":-21.11,"y":99.0},{"i":39,"x":-18.78,"y":91.0},{"i":39,"x":-16.41,"y":66.0},
{"i":40,"x":-21.11,"y":96.0},{"i":40,"x":-18.78,"y":95.0},{"i":40,"x":-16.41,"y":86.0},
{"i":41,"x":-21.11,"y":97.5},{"i":41,"x":-18.78,"y":93.5},{"i":41,"x":-16.41,"y":76.0},
{"i":42,"x":-21.11,"y":95.0},{"i":42,"x":-18.78,"y":91.0},{"i":42,"x":-16.41,"y":80.5},
{"i":43,"x":-21.11,"y":96.5},{"i":43,"x":-18.78,"y":89.0},{"i":43,"x":-16.41,"y":72.5},
{"i":44,"x":-21.11,"y":94.0},{"i":44,"x":-18.78,"y":93.0},{"i":44,"x":-16.41,"y":84.0},
{"i":45,"x":-21.11,"y":95.5},{"i":45,"x":-18.78,"y":96.0},{"i":45,"x":-16.41,"y":85.0},
{"i":46,"x":-21.11,"y":90.5},{"i":46,"x":-18.78,"y":97.0},{"i":46,"x":-16.41,"y":98.8},
{"i":47,"x":-21.11,"y":94.5},{"i":47,"x":-18.78,"y":88.0},{"i":47,"x":-16.41,"y":68.5},
{"i":48,"x":-21.11,"y":89.5},{"i":48,"x":-18.78,"y":94.0},{"i":48,"x":-16.41,"y":98.5},
{"i":49,"x":-21.11,"y":105.5},{"i":49,"x":-18.78,"y":98.5},{"i":49,"x":-16.41,"y":75.5},
{"i":50,"x":-21.11,"y":91.0},{"i":50,"x":-18.78,"y":92.0},{"i":50,"x":-16.41,"y":87.0},
{"i":51,"x":-21.11,"y":107.5},{"i":51,"x":-18.78,"y":100.0},{"i":51,"x":-16.41,"y":73.0},
{"i":52,"x":-21.11,"y":93.5},{"i":52,"x":-18.78,"y":90.0},{"i":52,"x":-16.41,"y":76.5},
{"i":53,"x":-21.11,"y":106.5},{"i":53,"x":-18.78,"y":92.0},{"i":53,"x":-16.41,"y":69.5},
{"i":54,"x":-21.11,"y":100.0},{"i":54,"x":-18.78,"y":99.0},{"i":54,"x":-16.41,"y":99.0},
{"i":55,"x":-21.11,"y":103.0},{"i":55,"x":-18.78,"y":101.0},{"i":55,"x":-16.41,"y":82.5},
{"i":56,"x":-21.11,"y":98.0},{"i":56,"x":-18.78,"y":87.0},{"i":56,"x":-16.41,"y":64.0},
{"i":57,"x":-21.11,"y":97.0},{"i":57,"x":-18.78,"y":98.5},{"i":57,"x":-16.41,"y":88.0},
{"i":59,"x":-21.11,"y":101.5},{"i":59,"x":-18.78,"y":93.0},{"i":59,"x":-16.41,"y":71.5},
{"i":61,"x":-21.11,"y":100.5},{"i":61,"x":-18.78,"y":96.5},{"i":61,"x":-16.41,"y":78.5},
{"i":63,"x":-21.11,"y":99.5},{"i":63,"x":-18.78,"y":97.5},{"i":63,"x":-16.41,"y":74.5},
{"i":65,"x":-21.11,"y":95.5},{"i":65,"x":-18.78,"y":92.5},{"i":65,"x":-16.41,"y":83.0},
{"i":67,"x":-21.11,"y":102.5},{"i":67,"x":-18.78,"y":100.0},{"i":67,"x":-16.41,"y":80.5},
{"i":69,"x":-21.11,"y":98.5},{"i":69,"x":-18.78,"y":94.5},{"i":69,"x":-16.41,"y":77.5},
{"i":71,"x":-21.11,"y":104.5},{"i":71,"x":-18.78,"y":99.5},{"i":71,"x":-16.41,"y":68.0},
{"i":73,"x":-21.11,"y":96.0},{"i":73,"x":-18.78,"y":99.0},{"i":73,"x":-16.41,"y":85.5},
{"i":75,"x":-21.11,"y":100.5},{"i":75,"x":-18.78,"y":98.0},{"i":75,"x":-16.41,"y":73.5},
{"i":77,"x":-21.11,"y":97.0},{"i":77,"x":-18.78,"y":93.0},{"i":77,"x":-16.41,"y":70.0},
{"i":79,"x":-21.11,"y":103.0},{"i":79,"x":-18.78,"y":97.0},{"i":79,"x":-16.41,"y":65.5},
{"i":81,"x":-21.11,"y":94.5},{"i":81,"x":-18.78,"y":91.0},{"i":81,"x":-16.41,"y":79.0},
{"i":83,"x":-21.11,"y":99.0},{"i":83,"x":-18.78,"y":102.0},{"i":83,"x":-16.41,"y":83.5},
{"i":85,"x":-21.11,"y":101.0},{"i":85,"x":-18.78,"y":99.5},{"i":85,"x":-16.41,"y":69.5},
{"i":87,"x":-21.11,"y":102.0},{"i":87,"x":-18.78,"y":96.0},{"i":87,"x":-16.41,"y":63.0},
{"i":89,"x":-21.11,"y":96.5},{"i":89,"x":-18.78,"y":95.5},{"i":89,"x":-16.41,"y":87.0},
{"i":91,"x":-21.11,"y":98.0},{"i":91,"x":-18.78,"y":100.5},{"i":91,"x":-16.41,"y":82.0},
{"i":93,"x":-21.11,"y":95.0},{"i":93,"x":-18.78,"y":97.5},{"i":93,"x":-16.41,"y":78.0},
{"i":0,"x":-21.11,"y":120.6},{"i":0,"x":-18.78,"y":117.5},{"i":0,"x":-16.41,"y":114.0},
{"i":1,"x":-21.11,"y":119.0},{"i":1,"x":-18.78,"y":114.5},{"i":1,"x":-16.41,"y":113.6},
{"i":1.5,"x":-21.11,"y":106.0},{"i":1.5,"x":-18.78,"y":104.5},{"i":1.5,"x":-16.41,"y":70.0},
{"i":2,"x":-21.11,"y":117.0},{"i":2,"x":-18.78,"y":107.5},{"i":2,"x":-16.41,"y":106.5},
{"i":3,"x":-21.11,"y":83.0},{"i":3,"x":-18.78,"y":123.0},{"i":3,"x":-16.41,"y":114.0},
{"i":4,"x":-21.11,"y":110.0},{"i":4,"x":-18.78,"y":110.0},{"i":4,"x":-16.41,"y":106.0},
{"i":5,"x":-21.11,"y":104.0},{"i":5,"x":-18.78,"y":107.0},{"i":5,"x":-16.41,"y":106.5},
{"i":6,"x":-21.11,"y":117.5},{"i":6,"x":-18.78,"y":100.0},{"i":6,"x":-16.41,"y":92.2},
{"i":7,"x":-21.11,"y":90.0},{"i":7,"x":-18.78,"y":86.0},{"i":7,"x":-16.41,"y":98.5},
{"i":8,"x":-21.11,"y":106.0},{"i":8,"x":-18.78,"y":93.0},{"i":8,"x":-16.41,"y":98.0},
{"i":9,"x":-21.11,"y":115.0},{"i":9,"x":-18.78,"y":95.0},{"i":9,"x":-16.41,"y":68.0},
{"i":10,"x":-21.11,"y":108.0},{"i":10,"x":-18.78,"y":90.0},{"i":10,"x":-16.41,"y":66.0},
{"i":11,"x":-21.11,"y":103.0},{"i":11,"x":-18.78,"y":85.0},{"i":11,"x":-16.41,"y":63.0},
{"i":12,"x":-21.11,"y":100.0},{"i":12,"x":-18.78,"y":84.0},{"i":12,"x":-16.41,"y":65.0},
{"i":58,"x":-21.11,"y":100.0},{"i":58,"x":-18.78,"y":105.0},{"i":58,"x":-14.14,"y":67.8},
{"i":60,"x":-21.11,"y":109.5},{"i":60,"x":-18.78,"y":98.0},{"i":60,"x":-16.41,"y":62.0},
{"i":62,"x":-21.11,"y":110.0},{"i":62,"x":-18.78,"y":95.0},{"i":62,"x":-16.41,"y":64.0},
{"i":64,"x":-21.11,"y":108.5},{"i":64,"x":-18.78,"y":101.0},{"i":64,"x":-16.41,"y":66.0},
{"i":66,"x":-21.11,"y":107.0},{"i":66,"x":-18.78,"y":102.0},{"i":66,"x":-16.41,"y":70.0},
{"i":68,"x":-21.11,"y":105.5},{"i":68,"x":-18.78,"y":103.0},{"i":68,"x":-16.41,"y":74.0},
{"i":70,"x":-21.11,"y":104.0},{"i":70,"x":-18.78,"y":104.0},{"i":70,"x":-16.41,"y":78.0},
{"i":72,"x":-21.11,"y":99.0},{"i":72,"x":-18.78,"y":96.0},{"i":72,"x":-16.41,"y":82.0},
{"i":74,"x":-21.11,"y":97.0},{"i":74,"x":-18.78,"y":94.0},{"i":74,"x":-16.41,"y":79.5},
{"i":76,"x":-21.11,"y":96.0},{"i":76,"x":-18.78,"y":100.0},{"i":76,"x":-16.41,"y":83.0},
{"i":78,"x":-21.11,"y":98.0},{"i":78,"x":-18.78,"y":101.5},{"i":78,"x":-16.41,"y":86.0},
{"i":80,"x":-21.11,"y":95.5},{"i":80,"x":-18.78,"y":97.0},{"i":80,"x":-16.41,"y":75.0},
{"i":82,"x":-21.11,"y":97.5},{"i":82,"x":-18.78,"y":99.0},{"i":82,"x":-16.41,"y":72.0},
{"i":84,"x":-21.11,"y":99.5},{"i":84,"x":-18.78,"y":100.5},{"i":84,"x":-16.41,"y":77.0},
{"i":86,"x":-21.11,"y":96.5},{"i":86,"x":-18.78,"y":98.0},{"i":86,"x":-16.41,"y":80.0},
{"i":88,"x":-21.11,"y":98.5},{"i":88,"x":-18.78,"y":99.5},{"i":88,"x":-16.41,"y":84.0},
{"i":90,"x":-21.11,"y":95.0},{"i":90,"x":-18.78,"y":92.0},{"i":90,"x":-16.41,"y":81.0},
{"i":92,"x":-21.11,"y":97.0},{"i":92,"x":-18.78,"y":95.5},{"i":92,"x":-16.41,"y":76.5},
{"i":94,"x":-21.11,"y":100.0},{"i":94,"x":-18.78,"y":101.0},{"i":94,"x":-16.41,"y":86.5},
{"i":96,"x":-21.11,"y":98.0},{"i":96,"x":-18.78,"y":95.0},{"i":96,"x":-16.41,"y":84.8},{"i":96,"x":-14.14,"y":78.4}
]
},
"columns":3,
"spacing":{"row":60,"column":45},
"bounds":"flush",
"concat":[
 {"title":"(A)","width":330,"height":245,"data":{"name":"A"},
  "encoding":{
   "y":{"field":"y","type":"quantitative","scale":{"domain":[17.5,110.1],"nice":false,"zero":false},"axis":{"values":[20,40,60,80,100],"title":"molecular response (%)","titlePadding":7}},
   "color":{"field":"i","type":"quantitative","scale":{"scheme":"plasma","domain":[0,100]},"legend":null},
   "detail":{"field":"i","type":"nominal"}},
  "layer":[
   {"mark":{"type":"line","strokeWidth":1.4},
    "encoding":{"x":{"field":"x","type":"quantitative","scale":{"domain":[-21.69,-15.82],"nice":false,"zero":false},"axis":{"values":[-21,-20,-19,-18,-17,-16],"format":"d","title":null}}}},
   {"mark":{"type":"line","strokeOpacity":0},
    "encoding":{"x":{"field":"x","type":"quantitative","scale":{"domain":[-21.69,-15.82],"nice":false,"zero":false},"axis":{"orient":"top","domain":false,"ticks":false,"labels":false,"title":"Drug NSC Number: 609699","titleFontSize":14,"titlePadding":4}}}}
  ],
  "resolve":{"axis":{"x":"independent"}}},
 {"title":"(B)","width":333,"height":245,"data":{"name":"B"},
  "encoding":{
   "y":{"field":"y","type":"quantitative","scale":{"domain":[29.7,114.0],"nice":false,"zero":false},"axis":{"values":[40,60,80,100],"title":null}},
   "color":{"field":"i","type":"quantitative","scale":{"scheme":"plasma","domain":[0,100]},"legend":null},
   "detail":{"field":"i","type":"nominal"}},
  "layer":[
   {"mark":{"type":"line","strokeWidth":1.4},
    "encoding":{"x":{"field":"x","type":"quantitative","scale":{"domain":[-16.38,-10.53],"nice":false,"zero":false},"axis":{"values":[-16,-15,-14,-13,-12,-11],"format":"d","title":null}}}},
   {"mark":{"type":"line","strokeOpacity":0},
    "encoding":{"x":{"field":"x","type":"quantitative","scale":{"domain":[-16.38,-10.53],"nice":false,"zero":false},"axis":{"orient":"top","domain":false,"ticks":false,"labels":false,"title":"Drug NSC Number: 8806","titleFontSize":14,"titlePadding":4}}}}
  ],
  "resolve":{"axis":{"x":"independent"}}},
 {"title":"(C)","width":330,"height":245,"data":{"name":"C"},
  "encoding":{
   "y":{"field":"y","type":"quantitative","scale":{"domain":[11.1,110.4],"nice":false,"zero":false},"axis":{"values":[20,40,60,80,100],"title":null}},
   "color":{"field":"i","type":"quantitative","scale":{"scheme":"plasma","domain":[0,100]},"legend":null},
   "detail":{"field":"i","type":"nominal"}},
  "layer":[
   {"mark":{"type":"line","strokeWidth":1.4},
    "encoding":{"x":{"field":"x","type":"quantitative","scale":{"domain":[-23.33,-17.06],"nice":false,"zero":false},"axis":{"values":[-23,-22,-21,-20,-19,-18],"format":"d","title":null}}}},
   {"mark":{"type":"line","strokeOpacity":0},
    "encoding":{"x":{"field":"x","type":"quantitative","scale":{"domain":[-23.33,-17.06],"nice":false,"zero":false},"axis":{"orient":"top","domain":false,"ticks":false,"labels":false,"title":"Drug NSC Number: 673596","titleFontSize":14,"titlePadding":4}}}}
  ],
  "resolve":{"axis":{"x":"independent"}}},
 {"title":"(D)","width":323,"height":241,"data":{"name":"D"},
  "encoding":{
   "y":{"field":"y","type":"quantitative","scale":{"domain":[5.3,128.9],"nice":false,"zero":false},"axis":{"values":[20,40,60,80,100,120],"title":"molecular response (%)","titlePadding":7}},
   "color":{"field":"i","type":"quantitative","scale":{"scheme":"plasma","domain":[0,100]},"legend":null},
   "detail":{"field":"i","type":"nominal"}},
  "layer":[
   {"mark":{"type":"line","strokeWidth":1.4},
    "encoding":{"x":{"field":"x","type":"quantitative","scale":{"domain":[-21.01,-14.76],"nice":false,"zero":false},"axis":{"values":[-21,-20,-19,-18,-17,-16,-15],"format":"d","title":"log-scaled drug dosage","titlePadding":11}}}},
   {"mark":{"type":"line","strokeOpacity":0},
    "encoding":{"x":{"field":"x","type":"quantitative","scale":{"domain":[-21.01,-14.76],"nice":false,"zero":false},"axis":{"orient":"top","domain":false,"ticks":false,"labels":false,"title":"Drug NSC Number: 740","titleFontSize":14,"titlePadding":4}}}}
  ],
  "resolve":{"axis":{"x":"independent"}}},
 {"title":"(E)","width":332,"height":246,"data":{"name":"E"},
  "encoding":{
   "y":{"field":"y","type":"quantitative","scale":{"domain":[44.3,124.6],"nice":false,"zero":false},"axis":{"values":[60,80,100,120],"title":null}},
   "color":{"field":"i","type":"quantitative","scale":{"scheme":"plasma","domain":[0,100]},"legend":null},
   "detail":{"field":"i","type":"nominal"}},
  "layer":[
   {"mark":{"type":"line","strokeWidth":1.4},
    "encoding":{"x":{"field":"x","type":"quantitative","scale":{"domain":[-20.95,-15.89],"nice":false,"zero":false},"axis":{"values":[-20,-19,-18,-17,-16],"format":"d","title":"log-scaled drug dosage"}}}},
   {"mark":{"type":"line","strokeOpacity":0},
    "encoding":{"x":{"field":"x","type":"quantitative","scale":{"domain":[-20.95,-15.89],"nice":false,"zero":false},"axis":{"orient":"top","domain":false,"ticks":false,"labels":false,"title":"Drug NSC Number: 732517","titleFontSize":14,"titlePadding":4}}}}
  ],
  "resolve":{"axis":{"x":"independent"}}},
 {"title":"(F)","width":327,"height":246,"data":{"name":"F"},
  "encoding":{
   "y":{"field":"y","type":"quantitative","scale":{"domain":[58.7,125.6],"nice":false,"zero":false},"axis":{"values":[60,70,80,90,100,110,120],"title":null}},
   "color":{"field":"i","type":"quantitative","scale":{"scheme":"plasma","domain":[0,100]},"legend":null},
   "detail":{"field":"i","type":"nominal"}},
  "layer":[
   {"mark":{"type":"line","strokeWidth":1.4},
    "encoding":{"x":{"field":"x","type":"quantitative","scale":{"domain":[-21.46,-13.83],"nice":false,"zero":false},"axis":{"values":[-20,-18,-16,-14],"format":"d","title":"log-scaled drug dosage"}}}},
   {"mark":{"type":"line","strokeOpacity":0},
    "encoding":{"x":{"field":"x","type":"quantitative","scale":{"domain":[-21.46,-13.83],"nice":false,"zero":false},"axis":{"orient":"top","domain":false,"ticks":false,"labels":false,"title":"Drug NSC Number: 27640","titleFontSize":14,"titlePadding":4}}}}
  ],
  "resolve":{"axis":{"x":"independent"}}}
]
}
